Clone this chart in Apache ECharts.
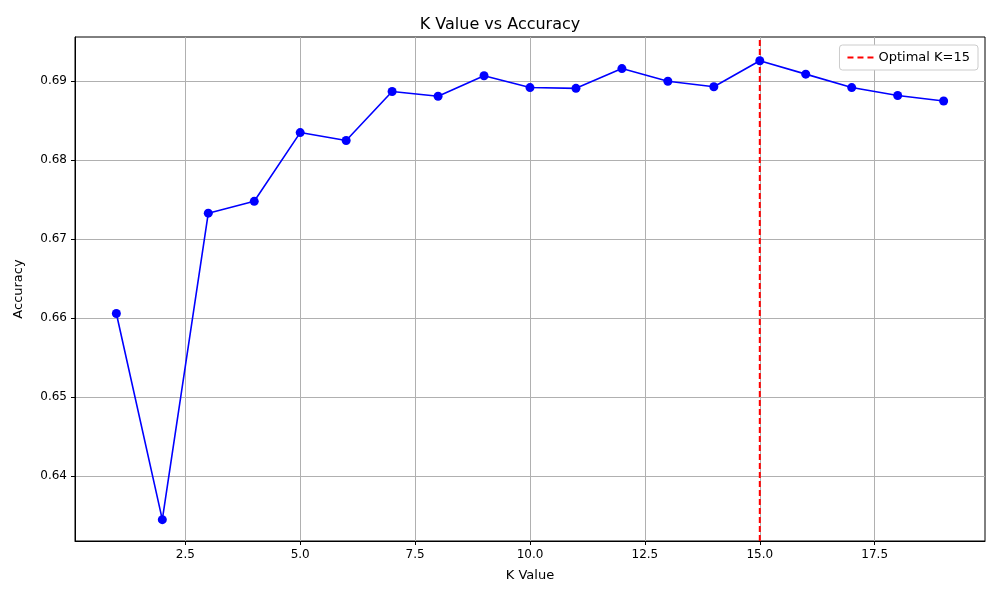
<!DOCTYPE html>
<html>
<head>
<meta charset="utf-8" />
<title>K Value vs Accuracy</title>
<script src="https://cdn.jsdelivr.net/npm/echarts@6/dist/echarts.min.js"></script>
</head>
<body style="margin:0">
<div id="main" style="width:1000px;height:600px"></div>
<script>
var kValues = [1, 2, 3, 4, 5, 6, 7, 8, 9, 10, 11, 12, 13, 14, 15, 16, 17, 18, 19];
var accuracy = [0.6606, 0.6345, 0.6733, 0.6748, 0.6835, 0.6825, 0.6887, 0.6881, 0.6907, 0.6892,
                0.6891, 0.6916, 0.6900, 0.6893, 0.6926, 0.6909, 0.6892, 0.6882, 0.6875];
var optimalK = 15;
var xTicks = [2.5, 5.0, 7.5, 10.0, 12.5, 15.0, 17.5];
var yTicks = [0.64, 0.65, 0.66, 0.67, 0.68, 0.69];
var xMin = 0.1, xMax = 19.9, yMin = 0.6318, yMax = 0.6956;

var font = 'DejaVu Sans';
var chart = echarts.init(document.getElementById('main'));
chart.setOption({
    backgroundColor: '#fff',
    animation: false,
    textStyle: { fontFamily: font },
    title: { text: 'K Value vs Accuracy', left: 'center', top: 12,
        textStyle: { fontFamily: font, fontSize: 16, fontWeight: 'normal', color: '#000' } },
    legend: {
        right: 22, top: 45, orient: 'vertical',
        data: [{ name: 'Optimal K=15', icon: 'path://M0,0 L6,0 L6,2 L0,2 Z M10,0 L16,0 L16,2 L10,2 Z M20,0 L26,0 L26,2 L20,2 Z' }],
        itemWidth: 26, itemHeight: 2,
        backgroundColor: '#fff', borderColor: '#ccc', borderWidth: 1, borderRadius: 3, padding: [6, 8],
        textStyle: { fontFamily: font, fontSize: 13, color: '#000' }
    },
    grid: { left: 75, right: 15, top: 37, bottom: 59, show: true, borderColor: '#000', borderWidth: 1 },
    xAxis: {
        type: 'value', min: xMin, max: xMax,
        name: 'K Value', nameLocation: 'middle', nameGap: 28,
        nameTextStyle: { fontFamily: font, fontSize: 13, color: '#000' },
        axisLine: { show: true, lineStyle: { color: '#000' } },
        axisTick: { show: true, customValues: xTicks, length: 4, lineStyle: { color: '#000' } },
        axisLabel: { customValues: xTicks, formatter: function (v) { return v.toFixed(1); },
            fontFamily: font, fontSize: 12, color: '#000', showMinLabel: true, showMaxLabel: true },
        splitLine: { show: true, lineStyle: { color: '#b0b0b0' } }
    },
    yAxis: {
        type: 'value', min: yMin, max: yMax,
        name: 'Accuracy', nameLocation: 'middle', nameGap: 50,
        nameTextStyle: { fontFamily: font, fontSize: 13, color: '#000' },
        axisLine: { show: true, lineStyle: { color: '#000' } },
        axisTick: { show: true, customValues: yTicks, length: 4, lineStyle: { color: '#000' } },
        axisLabel: { customValues: yTicks, formatter: function (v) { return v.toFixed(2); },
            fontFamily: font, fontSize: 12, color: '#000', showMinLabel: true, showMaxLabel: true },
        splitLine: { show: true, lineStyle: { color: '#b0b0b0' } }
    },
    series: [{
        name: 'Accuracy', type: 'line',
        data: kValues.map(function (k, i) { return [k, accuracy[i]]; }),
        symbol: 'circle', symbolSize: 9,
        lineStyle: { color: '#0000ff', width: 1.6 },
        itemStyle: { color: '#0000ff' }
    }, {
        name: 'Optimal K=15', type: 'line',
        data: [[optimalK, yMin], [optimalK, yMax]],
        symbol: 'none',
        lineStyle: { color: '#ff0000', width: 2, type: [6, 3] },
        itemStyle: { color: '#ff0000' }
    }]
});
</script>
</body>
</html>
